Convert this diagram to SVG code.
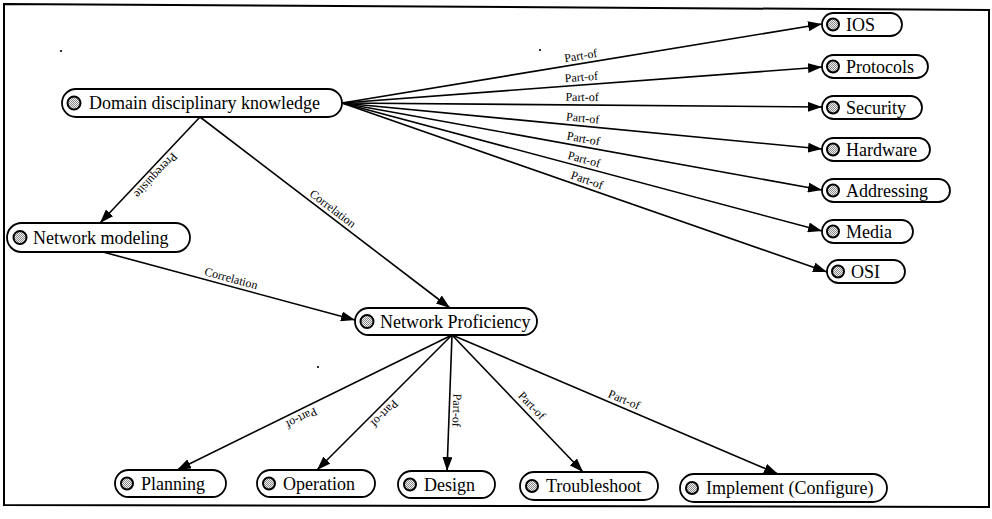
<svg xmlns="http://www.w3.org/2000/svg" width="992" height="519" viewBox="0 0 992 519">
<style>
.nb{fill:#fff;stroke:#000;stroke-width:1.8}
.ic{fill:url(#hatch);stroke:#000;stroke-width:2}
.nt{font-family:"Liberation Serif","Times New Roman",serif;font-size:18px;fill:#000}
.e{stroke:#000;stroke-width:1.6;fill:none;marker-end:url(#ah)}
.el{font-family:"Liberation Serif","Times New Roman",serif;font-size:12px;fill:#000;text-anchor:middle}
</style>
<defs>
<pattern id="hatch" width="2" height="2" patternUnits="userSpaceOnUse">
<rect width="2" height="2" fill="#f0f0f0"/>
<rect width="1" height="1" fill="#8a8a8a"/>
<rect x="1" y="1" width="1" height="1" fill="#8a8a8a"/>
</pattern>
<marker id="ah" viewBox="0 0 14 10" refX="14" refY="5" markerWidth="14" markerHeight="10" orient="auto" markerUnits="userSpaceOnUse">
<path d="M0,0 L14,5 L0,10 z" fill="#000"/>
</marker>
</defs>
<rect width="992" height="519" fill="#fff"/>
<polygon points="4,4 989,10 989,507 4,505" fill="none" stroke="#000" stroke-width="2"/>
<g id="specks" fill="#000">
<circle cx="61" cy="51" r="1.1"/>
<circle cx="540" cy="50" r="1.1"/>
<circle cx="318" cy="367" r="1.1"/>
</g>
<g id="connectors">
<line class="e" x1="342" y1="103" x2="822" y2="24"/>
<line class="e" x1="342" y1="103" x2="822" y2="67"/>
<line class="e" x1="342" y1="103" x2="822" y2="107"/>
<line class="e" x1="342" y1="103" x2="822" y2="149"/>
<line class="e" x1="342" y1="103" x2="822" y2="190"/>
<line class="e" x1="342" y1="103" x2="822" y2="231"/>
<line class="e" x1="342" y1="103" x2="827" y2="272"/>
<line class="e" x1="200" y1="117" x2="100" y2="223"/>
<line class="e" x1="200" y1="117" x2="450" y2="308"/>
<line class="e" x1="103" y1="252" x2="355" y2="320"/>
<line class="e" x1="452" y1="335" x2="177" y2="470"/>
<line class="e" x1="452" y1="335" x2="317" y2="470"/>
<line class="e" x1="452" y1="335" x2="447" y2="471"/>
<line class="e" x1="452" y1="335" x2="583" y2="472"/>
<line class="e" x1="452" y1="335" x2="778" y2="474"/>
<text class="el" transform="translate(582,63.5) rotate(-9.35)" dy="-4">Part-of</text>
<text class="el" transform="translate(582,85) rotate(-4.29)" dy="-4">Part-of</text>
<text class="el" transform="translate(582,105) rotate(0.48)" dy="-4">Part-of</text>
<text class="el" transform="translate(582,126) rotate(5.47)" dy="-4">Part-of</text>
<text class="el" transform="translate(582,146.5) rotate(10.27)" dy="-4">Part-of</text>
<text class="el" transform="translate(582,167) rotate(14.93)" dy="-4">Part-of</text>
<text class="el" transform="translate(584.5,187.5) rotate(19.21)" dy="-4">Part-of</text>
<text class="el" transform="translate(150,170) rotate(133.3)" dy="-4">Prerequisite</text>
<text class="el" transform="translate(328,215) rotate(37.38)" dy="-4">Correlation</text>
<text class="el" transform="translate(229,286) rotate(15.1)" dy="-4">Correlation</text>
<text class="el" transform="translate(298,411) rotate(153.9)" dy="-4">Part-of</text>
<text class="el" transform="translate(379,408) rotate(135)" dy="-4">Part-of</text>
<text class="el" transform="translate(449,410) rotate(92.1)" dy="-4">Part-of</text>
<text class="el" transform="translate(526,411) rotate(46.3)" dy="-4">Part-of</text>
<text class="el" transform="translate(621,407) rotate(23.1)" dy="-4">Part-of</text>
</g>
<g id="n-domain"><rect class="nb" x="62" y="89" width="280" height="28" rx="14"/><circle class="ic" cx="74" cy="103" r="6.5"/><text class="nt" x="89" y="109">Domain disciplinary knowledge</text></g>
<g id="n-ios"><rect class="nb" x="822" y="13" width="80" height="23" rx="11.5"/><circle class="ic" cx="833" cy="24.5" r="6"/><text class="nt" x="846" y="30.5">IOS</text></g>
<g id="n-protocols"><rect class="nb" x="822" y="55" width="106" height="23" rx="11.5"/><circle class="ic" cx="833" cy="66.5" r="6"/><text class="nt" x="846" y="72.5">Protocols</text></g>
<g id="n-security"><rect class="nb" x="822" y="96" width="100" height="23" rx="11.5"/><circle class="ic" cx="833" cy="107.5" r="6"/><text class="nt" x="846" y="113.5">Security</text></g>
<g id="n-hardware"><rect class="nb" x="822" y="138" width="108" height="23" rx="11.5"/><circle class="ic" cx="833" cy="149.5" r="6"/><text class="nt" x="846" y="155.5">Hardware</text></g>
<g id="n-addressing"><rect class="nb" x="822" y="179" width="128" height="23" rx="11.5"/><circle class="ic" cx="833" cy="190.5" r="6"/><text class="nt" x="846" y="196.5">Addressing</text></g>
<g id="n-media"><rect class="nb" x="822" y="220" width="91" height="23" rx="11.5"/><circle class="ic" cx="833" cy="231.5" r="6"/><text class="nt" x="846" y="237.5">Media</text></g>
<g id="n-osi"><rect class="nb" x="827" y="260" width="78" height="23" rx="11.5"/><circle class="ic" cx="838" cy="271.5" r="6"/><text class="nt" x="851" y="277.5">OSI</text></g>
<g id="n-netmod"><rect class="nb" x="7" y="223" width="183" height="29" rx="14.5"/><circle class="ic" cx="20" cy="237.5" r="6.5"/><text class="nt" x="33" y="244">Network modeling</text></g>
<g id="n-netprof"><rect class="nb" x="355" y="308" width="182" height="27" rx="13.5"/><circle class="ic" cx="367" cy="321.5" r="6.5"/><text class="nt" x="380" y="328">Network Proficiency</text></g>
<g id="n-planning"><rect class="nb" x="115" y="470" width="111" height="27" rx="13.5"/><circle class="ic" cx="127" cy="483.5" r="6"/><text class="nt" x="141" y="490">Planning</text></g>
<g id="n-operation"><rect class="nb" x="257" y="470" width="118" height="27" rx="13.5"/><circle class="ic" cx="269" cy="483.5" r="6"/><text class="nt" x="283" y="490">Operation</text></g>
<g id="n-design"><rect class="nb" x="398" y="471" width="97" height="27" rx="13.5"/><circle class="ic" cx="410" cy="484.5" r="6"/><text class="nt" x="424" y="491">Design</text></g>
<g id="n-troubleshoot"><rect class="nb" x="520" y="472" width="138" height="28" rx="14"/><circle class="ic" cx="532" cy="486" r="6"/><text class="nt" x="546" y="492">Troubleshoot</text></g>
<g id="n-implement"><rect class="nb" x="680" y="474" width="207" height="28" rx="14"/><circle class="ic" cx="692" cy="488" r="6"/><text class="nt" x="706" y="494">Implement (Configure)</text></g>
</svg>
